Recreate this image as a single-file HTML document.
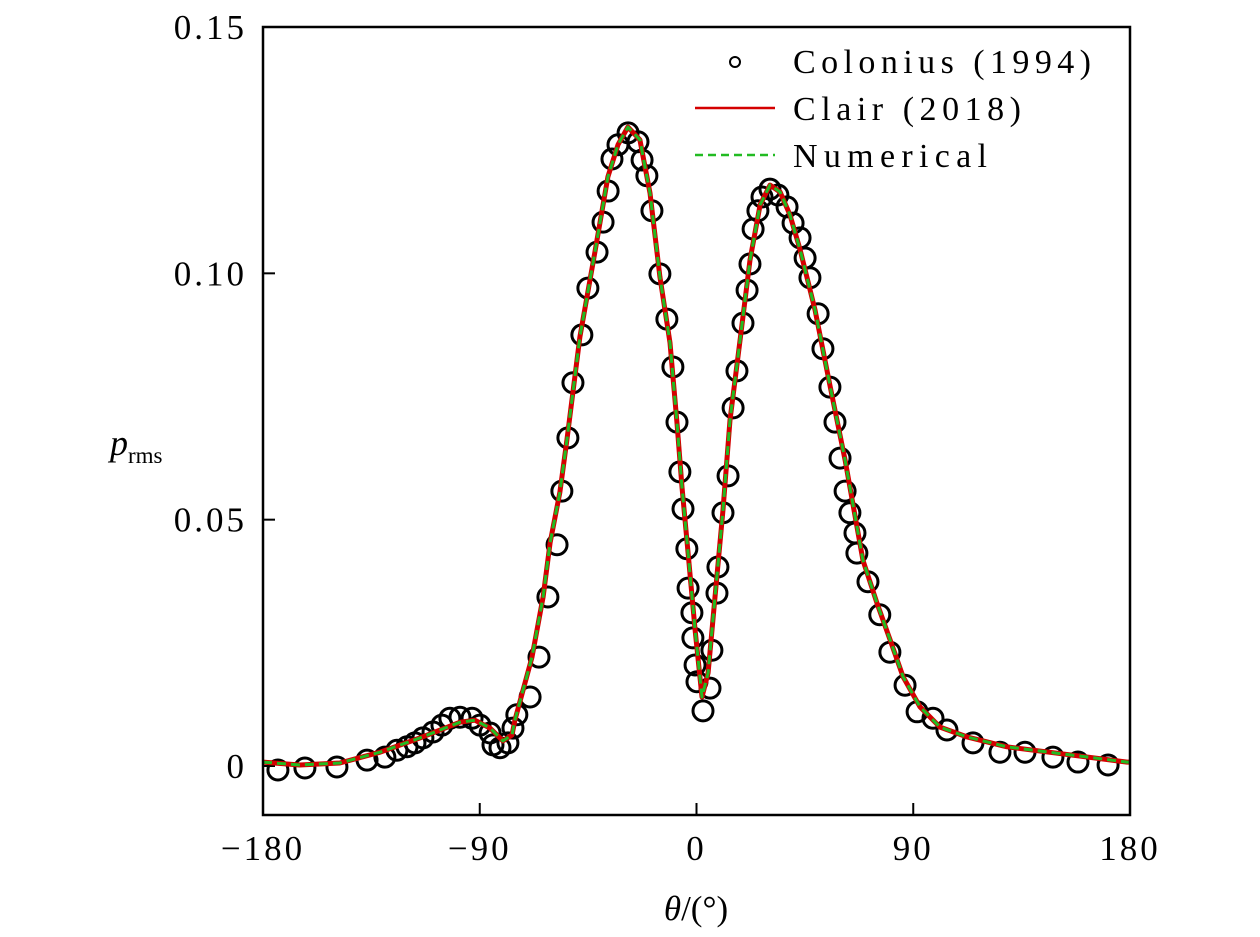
<!DOCTYPE html>
<html><head><meta charset="utf-8"><style>
html,body{margin:0;padding:0;background:#fff;}
svg{display:block;font-family:"Liberation Serif",serif;}
</style></head><body>
<svg id="chart" width="1260" height="937" viewBox="0 0 1260 937" xmlns="http://www.w3.org/2000/svg">
<g id="ticks"></g>
<g id="series"></g>
<rect x="263" y="27" width="867" height="788" fill="none" stroke="#000" stroke-width="2.5"/>
<g id="labels" font-size="35" letter-spacing="3"></g>
<text x="696" y="920" font-size="35" text-anchor="middle"><tspan font-style="italic">θ</tspan>/(°)</text>
<text x="110" y="455" font-size="36"><tspan font-style="italic">p</tspan><tspan font-size="23" dy="8">rms</tspan></text>
<g font-size="34">
<circle cx="735" cy="62" r="5" fill="none" stroke="#000" stroke-width="2"/>
<text x="793" y="73" textLength="298" lengthAdjust="spacing">Colonius (1994)</text>
<line x1="695" y1="108" x2="775" y2="108" stroke="#d40000" stroke-width="2.5"/>
<text x="793" y="120" textLength="228" lengthAdjust="spacing">Clair (2018)</text>
<line x1="695" y1="155" x2="775" y2="155" stroke="#22bb22" stroke-width="2.5" stroke-dasharray="8,5"/>
<text x="793" y="167" textLength="194" lengthAdjust="spacing">Numerical</text>
</g>
</svg>
<script>
const xTicks = [-180, -90, 0, 90, 180];
const xTickLabels = ["\u2212180", "\u221290", "0", "90", "180"];
const yTicks = [0, 0.05, 0.10, 0.15];
const yTickLabels = ["0", "0.05", "0.10", "0.15"];
const coloniusTheta = [-173.8,-162.6,-149.3,-136.8,-129.4,-124.4,-120.2,-116.9,-113.6,-109.4,-105.7,-102.4,-98.2,-93.2,-89.9,-85.7,-84.5,-81.6,-78.3,-76.2,-74.6,-69.1,-65.4,-61.7,-57.9,-55.9,-53.4,-51.3,-47.6,-45.1,-41.3,-38.8,-36.7,-35.1,-32.6,-28.4,-24.3,-22.6,-20.6,-18.5,-15.2,-12.3,-9.8,-8.1,-6.9,-5.6,-4.0,-3.5,-1.9,-1.5,-0.6,0.2,2.7,5.6,6.4,8.5,8.9,11.0,13.1,15.2,16.8,19.3,21.0,22.2,23.5,25.5,27.2,30.5,33.8,37.6,40.1,43.0,45.1,47.1,50.5,52.5,55.4,57.5,59.6,61.7,63.7,65.8,66.6,71.2,76.1,80.3,86.6,91.6,98.2,104.0,114.8,126.0,136.4,148.0,158.4,170.9];
const coloniusP = [-0.0008,-0.0004,-0.0002,0.0012,0.0018,0.0032,0.0039,0.0047,0.0057,0.0069,0.0083,0.0097,0.0099,0.0097,0.0083,0.0067,0.0043,0.0037,0.0047,0.0077,0.0104,0.0140,0.0221,0.0343,0.0449,0.0558,0.0666,0.0778,0.0875,0.0970,0.1043,0.1104,0.1167,0.1232,0.1261,0.1285,0.1267,0.1230,0.1198,0.1127,0.0999,0.0907,0.0810,0.0698,0.0597,0.0522,0.0441,0.0361,0.0311,0.0260,0.0205,0.0171,0.0112,0.0158,0.0235,0.0351,0.0404,0.0514,0.0589,0.0727,0.0802,0.0899,0.0966,0.1019,0.1090,0.1127,0.1155,0.1171,0.1159,0.1135,0.1102,0.1072,0.1031,0.0991,0.0918,0.0847,0.0769,0.0698,0.0625,0.0558,0.0514,0.0473,0.0432,0.0374,0.0307,0.0231,0.0164,0.0110,0.0097,0.0073,0.0047,0.0028,0.0028,0.0018,0.0008,0.0002];
const curveTheta = [-180,-164.7,-148.1,-131.4,-114.8,-98.2,-92.0,-85.7,-80.4,-76.6,-75.4,-68.3,-63.7,-60.8,-56.7,-53.8,-48.4,-42.2,-36.8,-32.6,-28.5,-23.5,-19.3,-15.2,-11.0,-8.1,-6.0,-3.5,-0.6,2.3,4.8,7.7,11.0,13.9,18.1,22.2,26.4,30.5,34.7,38.8,43.0,49.2,55.4,61.7,69.1,74.9,80.4,85.8,92.8,101.1,112.3,128.9,149.7,178.8,180];
const clairP = [0.0008,0.0002,0.0006,0.0028,0.0057,0.0089,0.0093,0.0077,0.0051,0.0063,0.0093,0.0221,0.0343,0.0453,0.0556,0.0662,0.0871,0.1043,0.1196,0.1261,0.1297,0.1271,0.1163,0.0993,0.0859,0.0696,0.0566,0.0432,0.0276,0.0140,0.0189,0.0343,0.0520,0.0702,0.0865,0.1027,0.1139,0.1179,0.1165,0.1119,0.1048,0.0926,0.0773,0.0621,0.0418,0.0331,0.0256,0.0181,0.0120,0.0079,0.0059,0.0039,0.0026,0.0008,0.0008];
const numericalP = [0.0008,0.0002,0.0006,0.0028,0.0057,0.0089,0.0093,0.0077,0.0051,0.0063,0.0093,0.0221,0.0343,0.0453,0.0556,0.0662,0.0871,0.1043,0.1196,0.1261,0.1297,0.1271,0.1163,0.0993,0.0859,0.0696,0.0566,0.0432,0.0276,0.0140,0.0189,0.0343,0.0520,0.0702,0.0865,0.1027,0.1139,0.1179,0.1165,0.1119,0.1048,0.0926,0.0773,0.0621,0.0418,0.0331,0.0256,0.0181,0.0120,0.0079,0.0059,0.0039,0.0026,0.0008,0.0008];

const NS = "http://www.w3.org/2000/svg";
const X0 = 263, X1 = 1130, Y0 = 766, YTOP = 27;
function xs(t){ return X0 + (t + 180) / 360 * (X1 - X0); }
function ys(p){ return Y0 - p / 0.15 * (Y0 - YTOP); }
function mk(tag, attrs, parent){ const e = document.createElementNS(NS, tag); for (const k in attrs) e.setAttribute(k, attrs[k]); parent.appendChild(e); return e; }

const ticks = document.getElementById('ticks');
const labels = document.getElementById('labels');
xTicks.forEach((t, i) => {
  const l = mk('line', {x1: xs(t), x2: xs(t), y1: 815, y2: 803, stroke: '#000', 'stroke-width': 2}, ticks);
  
  
  const tx = mk('text', {x: xs(t), y: 860, 'text-anchor': 'middle'}, labels);
  tx.textContent = xTickLabels[i];
  
  
});
yTicks.forEach((v, i) => {
  const l = mk('line', {x1: 263, x2: 275, y1: ys(v), y2: ys(v), stroke: '#000', 'stroke-width': 2}, ticks);
  
  
  const tx = mk('text', {x: 247, y: ys(v) + 12, 'text-anchor': 'end'}, labels);
  tx.textContent = yTickLabels[i];
  
  
});

const series = document.getElementById('series');
coloniusTheta.forEach((t, i) => {
  const c = mk('circle', {cx: xs(t), cy: ys(coloniusP[i]), r: 10, fill: 'none', stroke: '#000', 'stroke-width': 3}, series);
  
  
});
function pathFor(ps){ return curveTheta.map((t, i) => (i ? 'L' : 'M') + xs(t).toFixed(1) + ',' + ys(ps[i]).toFixed(1)).join(''); }
const red = mk('path', {d: pathFor(clairP), fill: 'none', stroke: '#d40000', 'stroke-width': 5, 'stroke-linejoin': 'round'}, series);


const green = mk('path', {d: pathFor(numericalP), fill: 'none', stroke: '#22bb22', 'stroke-width': 3, 'stroke-dasharray': '9,5', 'stroke-linejoin': 'round'}, series);


</script>
</body></html>
